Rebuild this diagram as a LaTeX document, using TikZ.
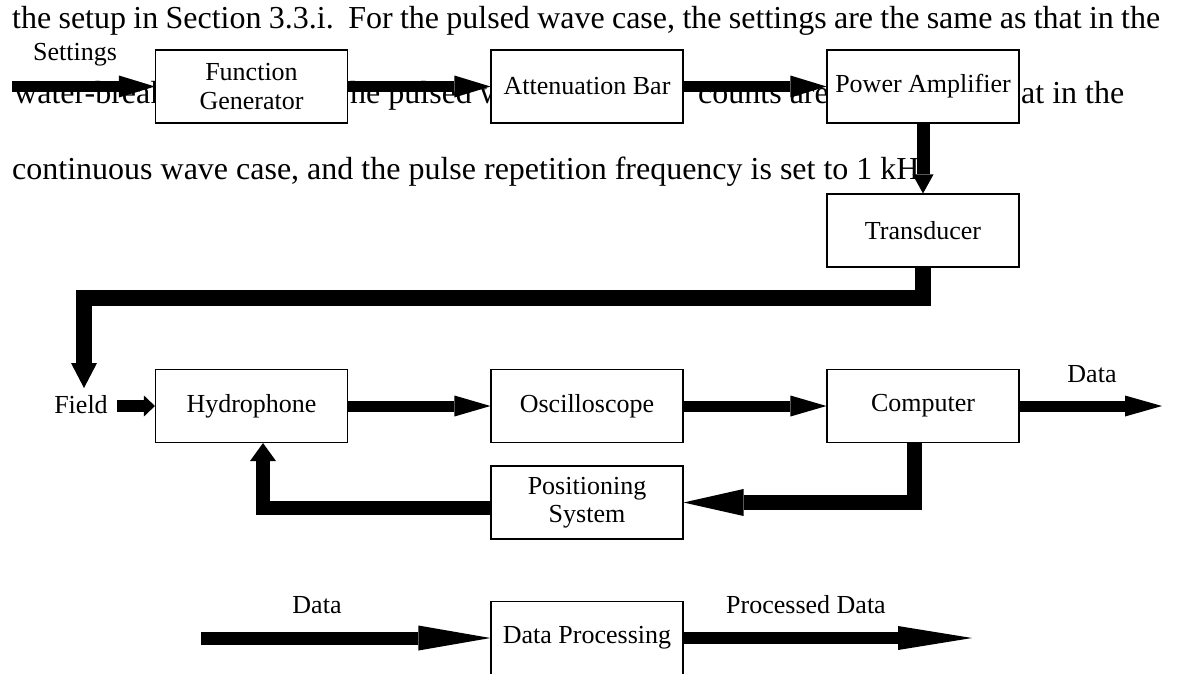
\documentclass[tikz,border=0pt]{standalone}
\usepackage{fontspec}
\setmainfont{Liberation Serif}
\usetikzlibrary{arrows.meta}
\newcommand\diaglbl{\fontsize{26}{28.5}\selectfont}
\newcommand\diagbody{\fontsize{32}{32}\selectfont}
\begin{document}
\begin{tikzpicture}[x=1pt,y=-1pt,
  box/.style={draw, line width=1.1pt, fill=white, minimum width=192pt, minimum height=73pt, inner sep=0pt, align=center, font=\diaglbl},
  lbl/.style={inner sep=0pt, font=\diaglbl},
  body/.style={anchor=base west, inner sep=0pt, font=\diagbody},
  fat/.style n args={3}{line width=#1, -{Triangle[length=#2,width=#3,line width=0pt 0 0]}}
]
\useasboundingbox (0,0) rectangle (1178,673);
% background paragraph text
\node[body] (t1) at (12,28) {\makebox[1148pt][s]{the setup in Section 3.3.i.\ \ For the pulsed wave case, the settings are the same as that in the}};
\node[body] (t2a) at (14,103) {water-break};
\node[body] (t2b) at (350,103) {he pulsed w};
\node[body] (t2c) at (698,103) {counts are};
\node[body] (t2d) at (1021,103) {at in the};
\node[body] (t3) at (12,179) {continuous wave case, and the pulse repetition frequency is set to 1 kH};
% labels
\node[lbl, anchor=base] (set) at (75,60) {Settings};
\node[lbl, anchor=base] (Field) at (81,413) {Field};
\node[lbl, anchor=base] (dout) at (1092,382) {Data};
\node[lbl, anchor=base] (din) at (317,613) {Data};
\node[lbl, anchor=base] (pd) at (806,613) {Processed Data};
% boxes
\node[box] (FG) at (251.5,86.5) {Function\\Generator};
\node[box] (Att) at (587,86.5) {Attenuation Bar};
\node[box] (PA) at (923,86.5) {Power Amplifier};
\node[box] (Tr) at (923,230.5) {Transducer};
\node[box] (Hy) at (251.5,406) {Hydrophone};
\node[box] (Os) at (587,406) {Oscilloscope};
\node[box] (Co) at (923,406) {Computer};
\node[box] (Po) at (587,502.5) {Positioning\\System};
\node[box] (DP) at (587,638) {Data Processing};
% free ends
\coordinate (setin) at (12,86.5);
\coordinate (fieldtop) at (84,388);
\coordinate (outend) at (1162,406);
\coordinate (dinstart) at (201,638);
\coordinate (pdend) at (972,638);
% connectors
\draw[fat={11pt}{36pt}{22pt}] (setin) -- (FG.west);
\draw[fat={11pt}{36pt}{22pt}] (FG.east) -- (Att.west);
\draw[fat={11pt}{36pt}{22pt}] (Att.east) -- (PA.west);
\draw[fat={13pt}{19pt}{21pt}] (PA.south) -- (Tr.north);
\draw[fat={16pt}{25pt}{26pt}] (Tr.south) -- ++(0,30) -| (fieldtop);
\draw[fat={12pt}{11pt}{21pt}, shorten <=9pt] (Field.east |- Hy.west) -- (Hy.west);
\draw[fat={11pt}{36pt}{21pt}] (Hy.east) -- (Os.west);
\draw[fat={11pt}{36pt}{21pt}] (Os.east) -- (Co.west);
\draw[fat={11pt}{37pt}{21pt}] (Co.east) -- (outend);
\draw[fat={15pt}{60pt}{27pt}] ([xshift=-9pt]Co.south) |- (Po.east);
\draw[fat={14pt}{18pt}{26pt}] ([yshift=-5pt]Po.west) -| ([xshift=11.5pt]Hy.south);
\draw[fat={13pt}{72pt}{25pt}] (dinstart) -- (DP.west);
\draw[fat={12pt}{74pt}{24pt}] (DP.east) -- (pdend);
\end{tikzpicture}
\end{document}
